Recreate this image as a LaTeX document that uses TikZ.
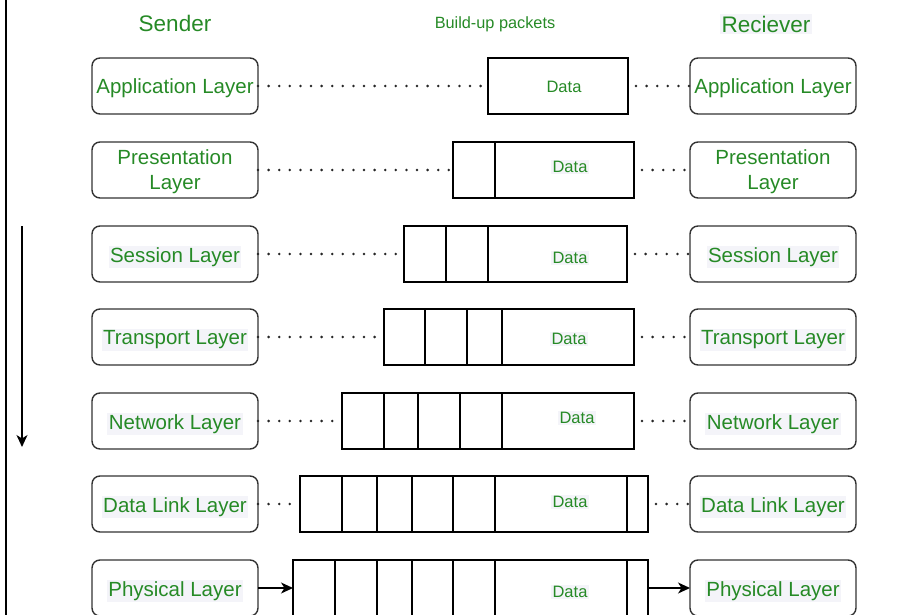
\documentclass[tikz,border=0pt]{standalone}
\usepackage{fontspec}
\setmainfont{Liberation Sans}
\usetikzlibrary{arrows.meta}
\definecolor{txtgreen}{RGB}{38,138,38}
\definecolor{hilite}{RGB}{244,244,249}
\definecolor{boxline}{RGB}{51,51,51}
\newcommand{\hltext}[1]{{\setlength{\fboxsep}{1.5pt}\colorbox{hilite}{#1}}}

\begin{document}
\begin{tikzpicture}[x=1pt,y=-1pt,
  layer/.style={draw=boxline, line width=1.4pt, rounded corners=8pt,
    minimum width=166pt, minimum height=56pt, inner sep=0pt, outer sep=0pt,
    text=txtgreen, font=\fontsize{20.5}{25}\selectfont, align=center,
    text depth=0pt},
  pkt/.style={draw=black, line width=1.4pt, minimum height=56pt,
    inner sep=0pt, outer sep=0pt},
  datalbl/.style={text=txtgreen, font=\fontsize{16.5}{19}\selectfont, inner sep=0pt},
  title/.style={text=txtgreen, font=\fontsize{22.5}{27}\selectfont, inner sep=0pt},
  dots/.style={draw=black!85, line width=2.8pt, line cap=round,
    dash pattern=on 0pt off 10.6pt},
  link/.style={draw=black, line width=1.4pt,
    -{Stealth[length=12pt,width=11pt,inset=3.5pt]}},
  divider/.style={draw=black, line width=1.4pt}
]
\useasboundingbox (0,0) rectangle (921,615);
\clip (0,0) rectangle (921,615);

% frame edge and direction of encapsulation
\coordinate (edgetop) at (6,0);
\coordinate (edgebot) at (6,615);
\draw[line width=2.5pt] (edgetop) -- (edgebot);
\coordinate (flowtop) at (22,226);
\coordinate (flowbot) at (22,447);
\draw[link] (flowtop) -- (flowbot);

% headings
\node[title] (sender) at (175,23) {Sender};
\node[text=txtgreen, font=\fontsize{16.3}{19}\selectfont, inner sep=0pt] (build) at (495,24) {Build-up packets};
\node[title] (recv) at (766,24) {\hltext{Reciever}};

% sender stack
\node[layer] (L1) at (175,86)  {Application Layer};
\node[layer] (L2) at (175,170) {Presentation\\Layer};
\node[layer] (L3) at (175,254) {\hltext{Session Layer}};
\node[layer] (L4) at (175,337) {\hltext{Transport Layer}};
\node[layer] (L5) at (175,421) {\hltext{Network Layer}};
\node[layer] (L6) at (175,504) {\hltext{Data Link Layer}};
\node[layer] (L7) at (175,588) {\hltext{Physical Layer}};

% receiver stack
\node[layer] (R1) at (773,86)  {Application Layer};
\node[layer] (R2) at (773,170) {Presentation\\Layer};
\node[layer] (R3) at (773,254) {\hltext{Session Layer}};
\node[layer] (R4) at (773,337) {\hltext{Transport Layer}};
\node[layer] (R5) at (773,421) {\hltext{Network Layer}};
\node[layer] (R6) at (773,504) {\hltext{Data Link Layer}};
\node[layer] (R7) at (773,588) {\hltext{Physical Layer}};

% packets, growing by one header per layer
\node[pkt, minimum width=140pt] (P1) at (558,86) {};
\node[datalbl] (D1) at (564,87) {Data};

\node[pkt, minimum width=181pt] (P2) at (543.5,170) {};
\draw[divider] (495,142) -- (495,198);
\node[datalbl] (D2) at (570,167) {\hltext{Data}};

\node[pkt, minimum width=223pt] (P3) at (515.5,254) {};
\foreach \x in {446,488} \draw[divider] (\x,226) -- (\x,282);
\node[datalbl] (D3) at (570,258) {\hltext{Data}};

\node[pkt, minimum width=250pt] (P4) at (509,337) {};
\foreach \x in {425,467,502} \draw[divider] (\x,309) -- (\x,365);
\node[datalbl] (D4) at (569,339) {\hltext{Data}};

\node[pkt, minimum width=292pt] (P5) at (488,421) {};
\foreach \x in {384,418,460,502} \draw[divider] (\x,393) -- (\x,449);
\node[datalbl] (D5) at (577,418) {\hltext{Data}};

\node[pkt, minimum width=348pt] (P6) at (474,504) {};
\foreach \x in {342,377,412,453,495,627} \draw[divider] (\x,476) -- (\x,532);
\node[datalbl] (D6) at (570,502) {\hltext{Data}};

\node[pkt, minimum width=355pt] (P7) at (470.5,588) {};
\foreach \x in {335,377,412,453,495,627} \draw[divider] (\x,560) -- (\x,616);
\node[datalbl] (D7) at (570,592) {\hltext{Data}};

% peer connections
\foreach \i in {1,...,6} {
  \draw[dots] (L\i.east) -- (P\i.west);
  \draw[dots, shorten <=8pt] (P\i.east) -- (R\i.west);
}
\draw[link] (L7.east) -- (P7.west);
\draw[link] (P7.east) -- (R7.west);
\end{tikzpicture}
\end{document}
